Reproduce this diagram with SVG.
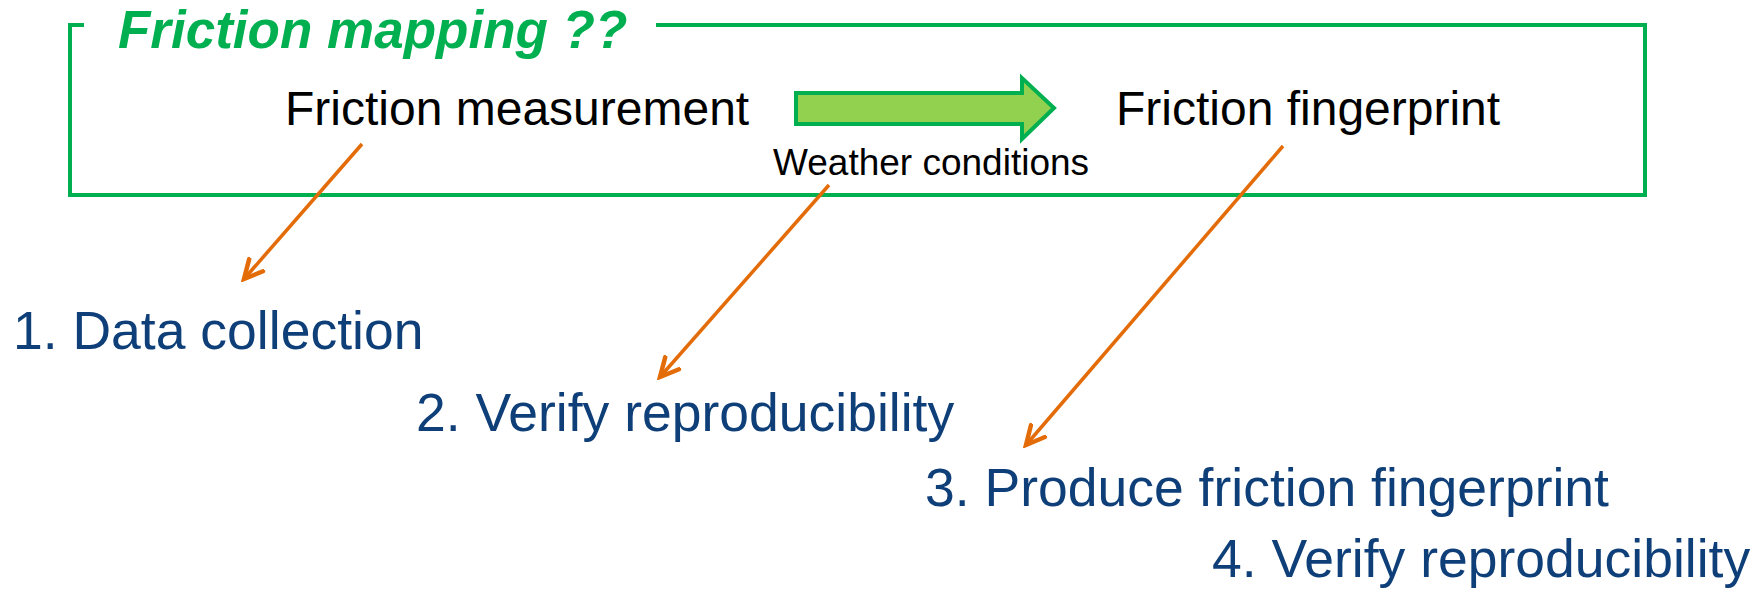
<svg xmlns="http://www.w3.org/2000/svg" width="1764" height="594" viewBox="0 0 1764 594">
<defs>
<style>
.frame{fill:none;stroke:#00B050;stroke-width:4}
.title{font-family:"Liberation Sans",Arial,sans-serif;font-weight:bold;font-style:italic;font-size:53px;fill:#00B050}
.lbl{font-family:"Liberation Sans",Arial,sans-serif;font-size:48px;fill:#000}
.small{font-family:"Liberation Sans",Arial,sans-serif;font-size:37px;fill:#000}
.step{font-family:"Liberation Sans",Arial,sans-serif;font-size:53.5px;fill:#0F3F78}
.conn{stroke:#E36C09;stroke-width:3.5;fill:none;marker-end:url(#ah)}
</style>
<marker id="ah" viewBox="0 0 12 12" refX="10" refY="6" markerWidth="7" markerHeight="7" orient="auto" markerUnits="strokeWidth">
<path d="M1,1.5 L10,6 L1,10.5" fill="none" stroke="#E36C09" stroke-width="2.2" stroke-linecap="round" stroke-linejoin="miter"/>
</marker>
</defs>
<rect width="1764" height="594" fill="#fff"/>
<g id="frame">
<path class="frame" d="M84,25 L70,25 L70,195 L1645,195 L1645,25 L656,25"/>
<text class="title" x="118" y="48">Friction mapping ??</text>
</g>
<g id="measurement"><text class="lbl" x="285" y="125">Friction measurement</text></g>
<g id="fingerprint"><text class="lbl" x="1116" y="125">Friction fingerprint</text></g>
<g id="block-arrow">
<path d="M796,93 L1022,93 L1022,78 L1054,108 L1022,139 L1022,124 L796,124 Z" fill="#92D050" stroke="#00B050" stroke-width="4"/>
<text class="small" x="773" y="175">Weather conditions</text>
</g>
<g id="step1"><text class="step" x="13" y="349">1. Data collection</text></g>
<g id="step2"><text class="step" x="416" y="431">2. Verify reproducibility</text></g>
<g id="step3"><text class="step" x="925" y="506">3. Produce friction fingerprint</text></g>
<g id="step4"><text class="step" x="1212" y="577">4. Verify reproducibility</text></g>
<g id="connectors">
<line class="conn" x1="362" y1="144" x2="244" y2="279"/>
<line class="conn" x1="829" y1="185" x2="660" y2="377"/>
<line class="conn" x1="1283" y1="146" x2="1026" y2="445"/>
</g>
</svg>
